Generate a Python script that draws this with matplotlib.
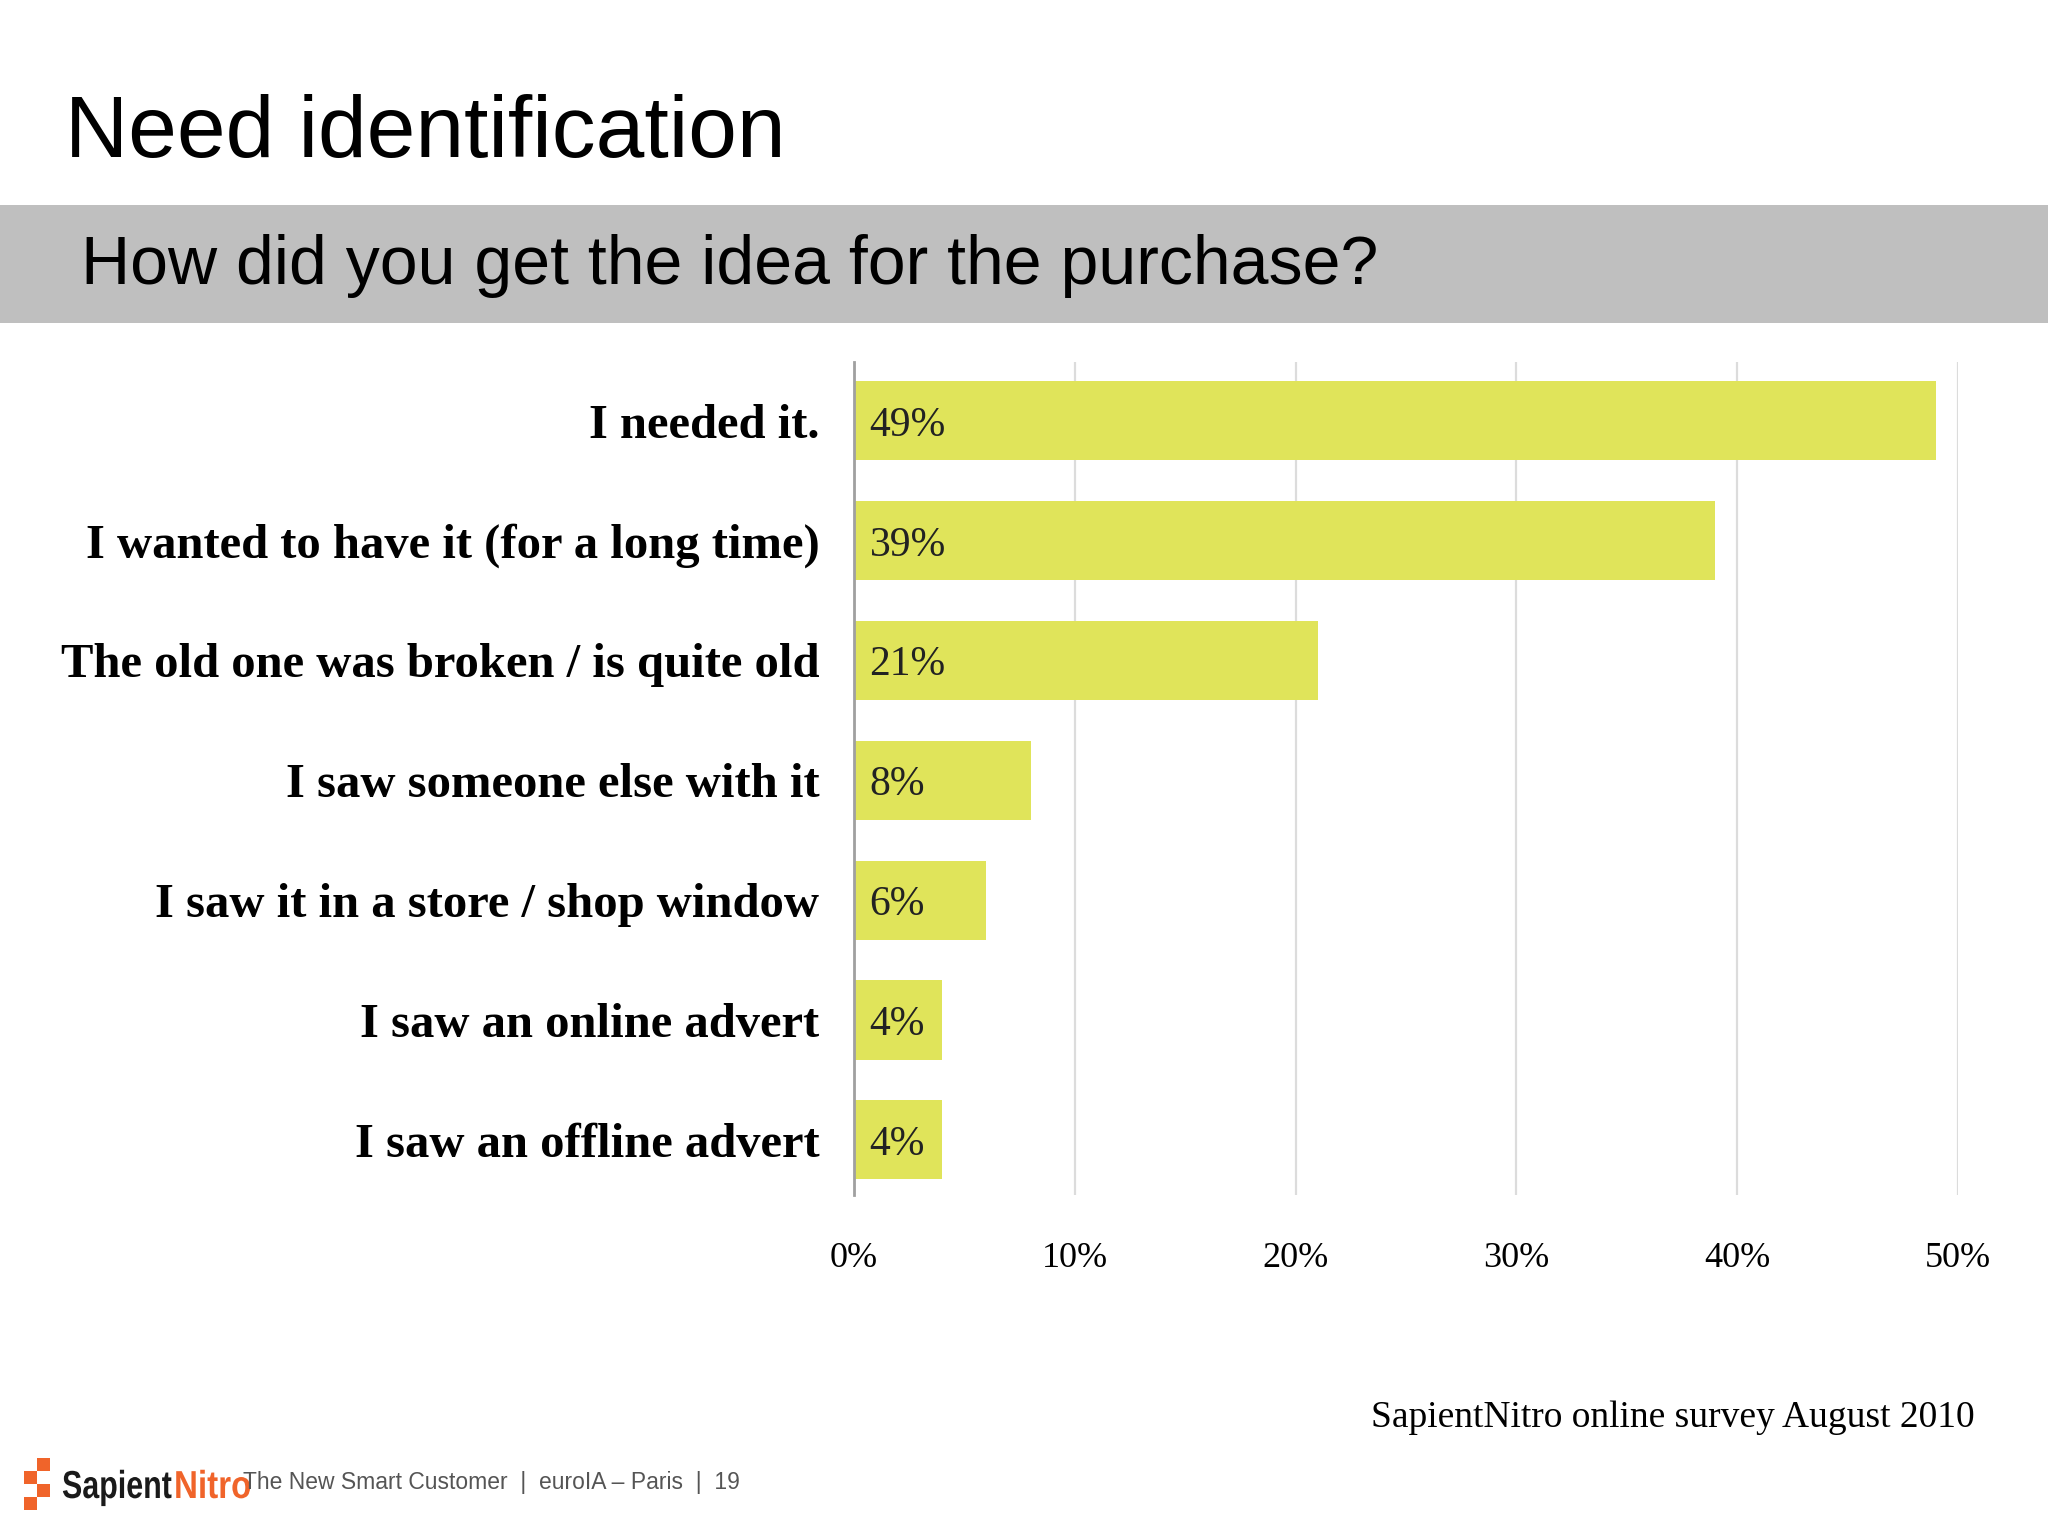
import matplotlib.pyplot as plt
from matplotlib.patches import Rectangle, PathPatch
from matplotlib.textpath import TextPath
from matplotlib.font_manager import FontProperties
from matplotlib.transforms import Affine2D

categories = [
    "I needed it.",
    "I wanted to have it (for a long time)",
    "The old one was broken / is quite old",
    "I saw someone else with it",
    "I saw it in a store / shop window",
    "I saw an online advert",
    "I saw an offline advert",
]
values = [49, 39, 21, 8, 6, 4, 4]
ticks = [0, 10, 20, 30, 40, 50]
tick_labels = ["0%", "10%", "20%", "30%", "40%", "50%"]

bar_color = "#e0e45a"
serif = ["Liberation Serif", "DejaVu Serif"]
sans = ["Liberation Sans", "DejaVu Sans"]

fig = plt.figure(figsize=(20.48, 15.36), dpi=100)
W, H = 2048, 1536
px = Affine2D().scale(1 / W, 1 / H) + fig.transFigure  # pixel units, y up

# title and grey band
fig.text(65 / W, 1 - 134 / H, "Need identification", fontsize=63,
         family=sans, va="center", ha="left", color="black")
fig.add_artist(Rectangle((0, 1 - 323 / H), 1, 118 / H, transform=fig.transFigure,
                         facecolor="#bfbfbf", edgecolor="none"))
fig.text(81 / W, 1 - 266 / H, "How did you get the idea for the purchase?",
         fontsize=49, family=sans, va="center", ha="left", color="black")

# chart
ax = fig.add_axes([854 / W, 1 - 1195 / H, (1958 - 854) / W, (1195 - 362) / H])
y = list(range(len(categories)))
ax.barh(y, values, height=0.66, color=bar_color, zorder=2)
for yi, v in zip(y, values):
    ax.text(0.7, yi + 0.04, f"{v}%", va="center", ha="left", fontsize=30,
            family=serif, color="#222222", zorder=3)

ax.set_xlim(0, 50)
ax.set_ylim(6.46, -0.49)
ax.set_yticks(y)
ax.set_yticklabels(categories, family=serif, fontweight="bold", fontsize=35)
ax.set_xticks(ticks)
ax.set_xticklabels(tick_labels, family=serif, fontsize=26)
ax.tick_params(axis="both", length=0)
ax.tick_params(axis="y", pad=25)
ax.tick_params(axis="x", pad=34)
ax.grid(axis="x", color="#dcdcdc", linewidth=1.6, zorder=0)
for s in ["top", "right", "bottom"]:
    ax.spines[s].set_visible(False)
ax.spines["left"].set_color("#a0a0a0")
ax.spines["left"].set_linewidth(2)
ax.spines["left"].set_zorder(4)

# source note
fig.text(1975 / W, 1 - 1418 / H, "SapientNitro online survey August 2010",
         fontsize=27, family=serif, ha="right", va="center", color="black")

# footer logo
orange = "#f0642a"
for (x0, y0) in [(37, 1458), (24, 1471), (37, 1484), (24, 1497)]:
    fig.add_artist(Rectangle((x0 / W, 1 - (y0 + 13) / H), 13 / W, 13 / H,
                             transform=fig.transFigure, facecolor=orange,
                             edgecolor="none"))
logo_font = FontProperties(family="Liberation Sans", weight="bold")
tp1 = TextPath((0, 0), "Sapient", size=39, prop=logo_font)
tp2 = TextPath((0, 0), "Nitro", size=39, prop=logo_font)
fig.add_artist(PathPatch(tp1, transform=Affine2D().scale(0.78, 1).translate(62, H - 1498) + px,
                         facecolor="#1a1a1a", edgecolor="none"))
fig.add_artist(PathPatch(tp2, transform=Affine2D().scale(0.85, 1).translate(174, H - 1498) + px,
                         facecolor=orange, edgecolor="none"))
fig.text(243 / W, 1 - 1482 / H, "The New Smart Customer  |  euroIA \u2013 Paris  |  19",
         fontsize=16.5, family=sans, va="center", ha="left", color="#555555")

fig.savefig("out.png", dpi=100)
